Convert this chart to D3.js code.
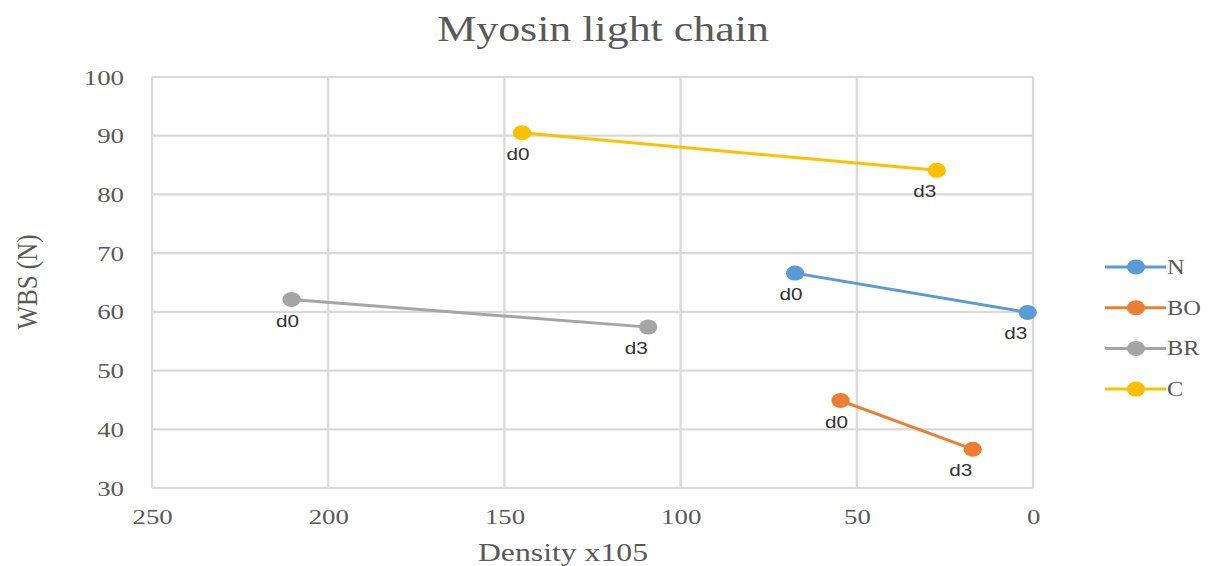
<!DOCTYPE html>
<html><head><meta charset="utf-8">
<script src="https://cdn.jsdelivr.net/npm/d3@7"></script>
<style>body{margin:0;background:#fff}svg{display:block}</style>
</head><body>
<svg id="chart" width="1220" height="566"></svg>
<script>
const seriesNames = ["N", "BO", "BR", "C"];
const pointLabels = ["d0", "d3"];
const densityN = [67.5, 1.5];
const wbsN = [66.6, 59.9];
const densityBO = [54.6, 17.1];
const wbsBO = [44.9, 36.6];
const densityBR = [210.4, 109.2];
const wbsBR = [62.1, 57.4];
const densityC = [145, 27.3];
const wbsC = [90.5, 84.1];
const xTicks = [250, 200, 150, 100, 50, 0];
const yTicks = [30, 40, 50, 60, 70, 80, 90, 100];
const colors = ["#5B9BD5", "#ED7D31", "#A5A5A5", "#FFC000"];

const series = [
  {name: seriesNames[0], xs: densityN, ys: wbsN},
  {name: seriesNames[1], xs: densityBO, ys: wbsBO},
  {name: seriesNames[2], xs: densityBR, ys: wbsBR},
  {name: seriesNames[3], xs: densityC, ys: wbsC}
];

// The reference picture is stretched horizontally; draw in unstretched units and scale.
const sx = 1.22;
const root = d3.select("#chart").append("g").attr("transform", `scale(${sx},1)`);
const X = px => px / sx; // image px -> unstretched units

const pLeft = X(152), pRight = X(1033), pTop = 77, pBottom = 488;
const x = d3.scaleLinear().domain([250, 0]).range([pLeft, pRight]);
const y = d3.scaleLinear().domain([30, 100]).range([pBottom, pTop]);

const serif = "'Liberation Serif', 'Times New Roman', serif";
const sans = "'Liberation Sans', Arial, sans-serif";
const txt = "#595959";

// Title
root.append("text").attr("x", X(603)).attr("y", 41).attr("text-anchor", "middle")
  .style("font-family", serif).style("font-size", "36px").attr("fill", txt)
  .text("Myosin light chain");

// Grid
const grid = root.append("g");
grid.selectAll("line.h").data(yTicks).join("line").attr("class", "h")
  .attr("x1", pLeft).attr("x2", pRight).attr("y1", d => y(d)).attr("y2", d => y(d))
  .attr("stroke", "#d9d9d9").attr("stroke-width", 2.2);
grid.selectAll("line.v").data(xTicks).join("line").attr("class", "v")
  .attr("y1", pTop).attr("y2", pBottom).attr("x1", d => x(d)).attr("x2", d => x(d))
  .attr("stroke", "#d9d9d9").attr("stroke-width", 1.8);

// Axes tick labels
const yAxis = root.append("g").attr("transform", `translate(${pLeft},0)`)
  .call(d3.axisLeft(y).tickValues(yTicks).tickSize(0).tickPadding(X(28)));
const xAxis = root.append("g").attr("transform", `translate(0,${pBottom})`)
  .call(d3.axisBottom(x).tickValues(xTicks).tickSize(0).tickPadding(20));
[xAxis, yAxis].forEach(a => {
  a.select(".domain").remove();
  a.selectAll("text").style("font-family", serif).style("font-size", "22px").attr("fill", txt);
});

// Axis titles
root.append("text").attr("x", X(563)).attr("y", 561).attr("text-anchor", "middle")
  .style("font-family", serif).style("font-size", "26px").attr("fill", txt)
  .text("Density x105");
root.append("text").attr("transform", `translate(${X(37)},282) rotate(-90)`).attr("text-anchor", "middle")
  .style("font-family", serif).style("font-size", "25px").attr("fill", txt)
  .text("WBS (N)");

// Series
const line = d3.line().x(d => x(d[0])).y(d => y(d[1]));
series.forEach((s, i) => {
  const pts = s.xs.map((v, j) => [v, s.ys[j]]);
  const g = root.append("g");
  g.append("path").attr("d", line(pts)).attr("fill", "none")
    .attr("stroke", colors[i]).attr("stroke-width", 3);
  g.selectAll("circle").data(pts).join("circle")
    .attr("cx", d => x(d[0])).attr("cy", d => y(d[1])).attr("r", 7.5).attr("fill", colors[i]);
  g.selectAll("text").data(pts).join("text")
    .attr("x", (d, j) => x(d[0]) + X(j === 0 ? -4 : -12))
    .attr("y", d => y(d[1]) + 27)
    .attr("text-anchor", "middle")
    .style("font-family", sans).style("font-size", "17px").attr("fill", "#333333")
    .text((d, j) => pointLabels[j]);
});

// Legend
const leg = root.append("g");
series.forEach((s, i) => {
  const ly = 267 + i * 40.7;
  leg.append("line").attr("x1", X(1105)).attr("x2", X(1166)).attr("y1", ly).attr("y2", ly)
    .attr("stroke", colors[i]).attr("stroke-width", 3);
  leg.append("circle").attr("cx", X(1136)).attr("cy", ly).attr("r", 7.5).attr("fill", colors[i]);
  leg.append("text").attr("x", X(1167)).attr("y", ly + 7)
    .style("font-family", serif).style("font-size", "20px").attr("fill", txt)
    .text(s.name);
});
</script>
</body></html>
